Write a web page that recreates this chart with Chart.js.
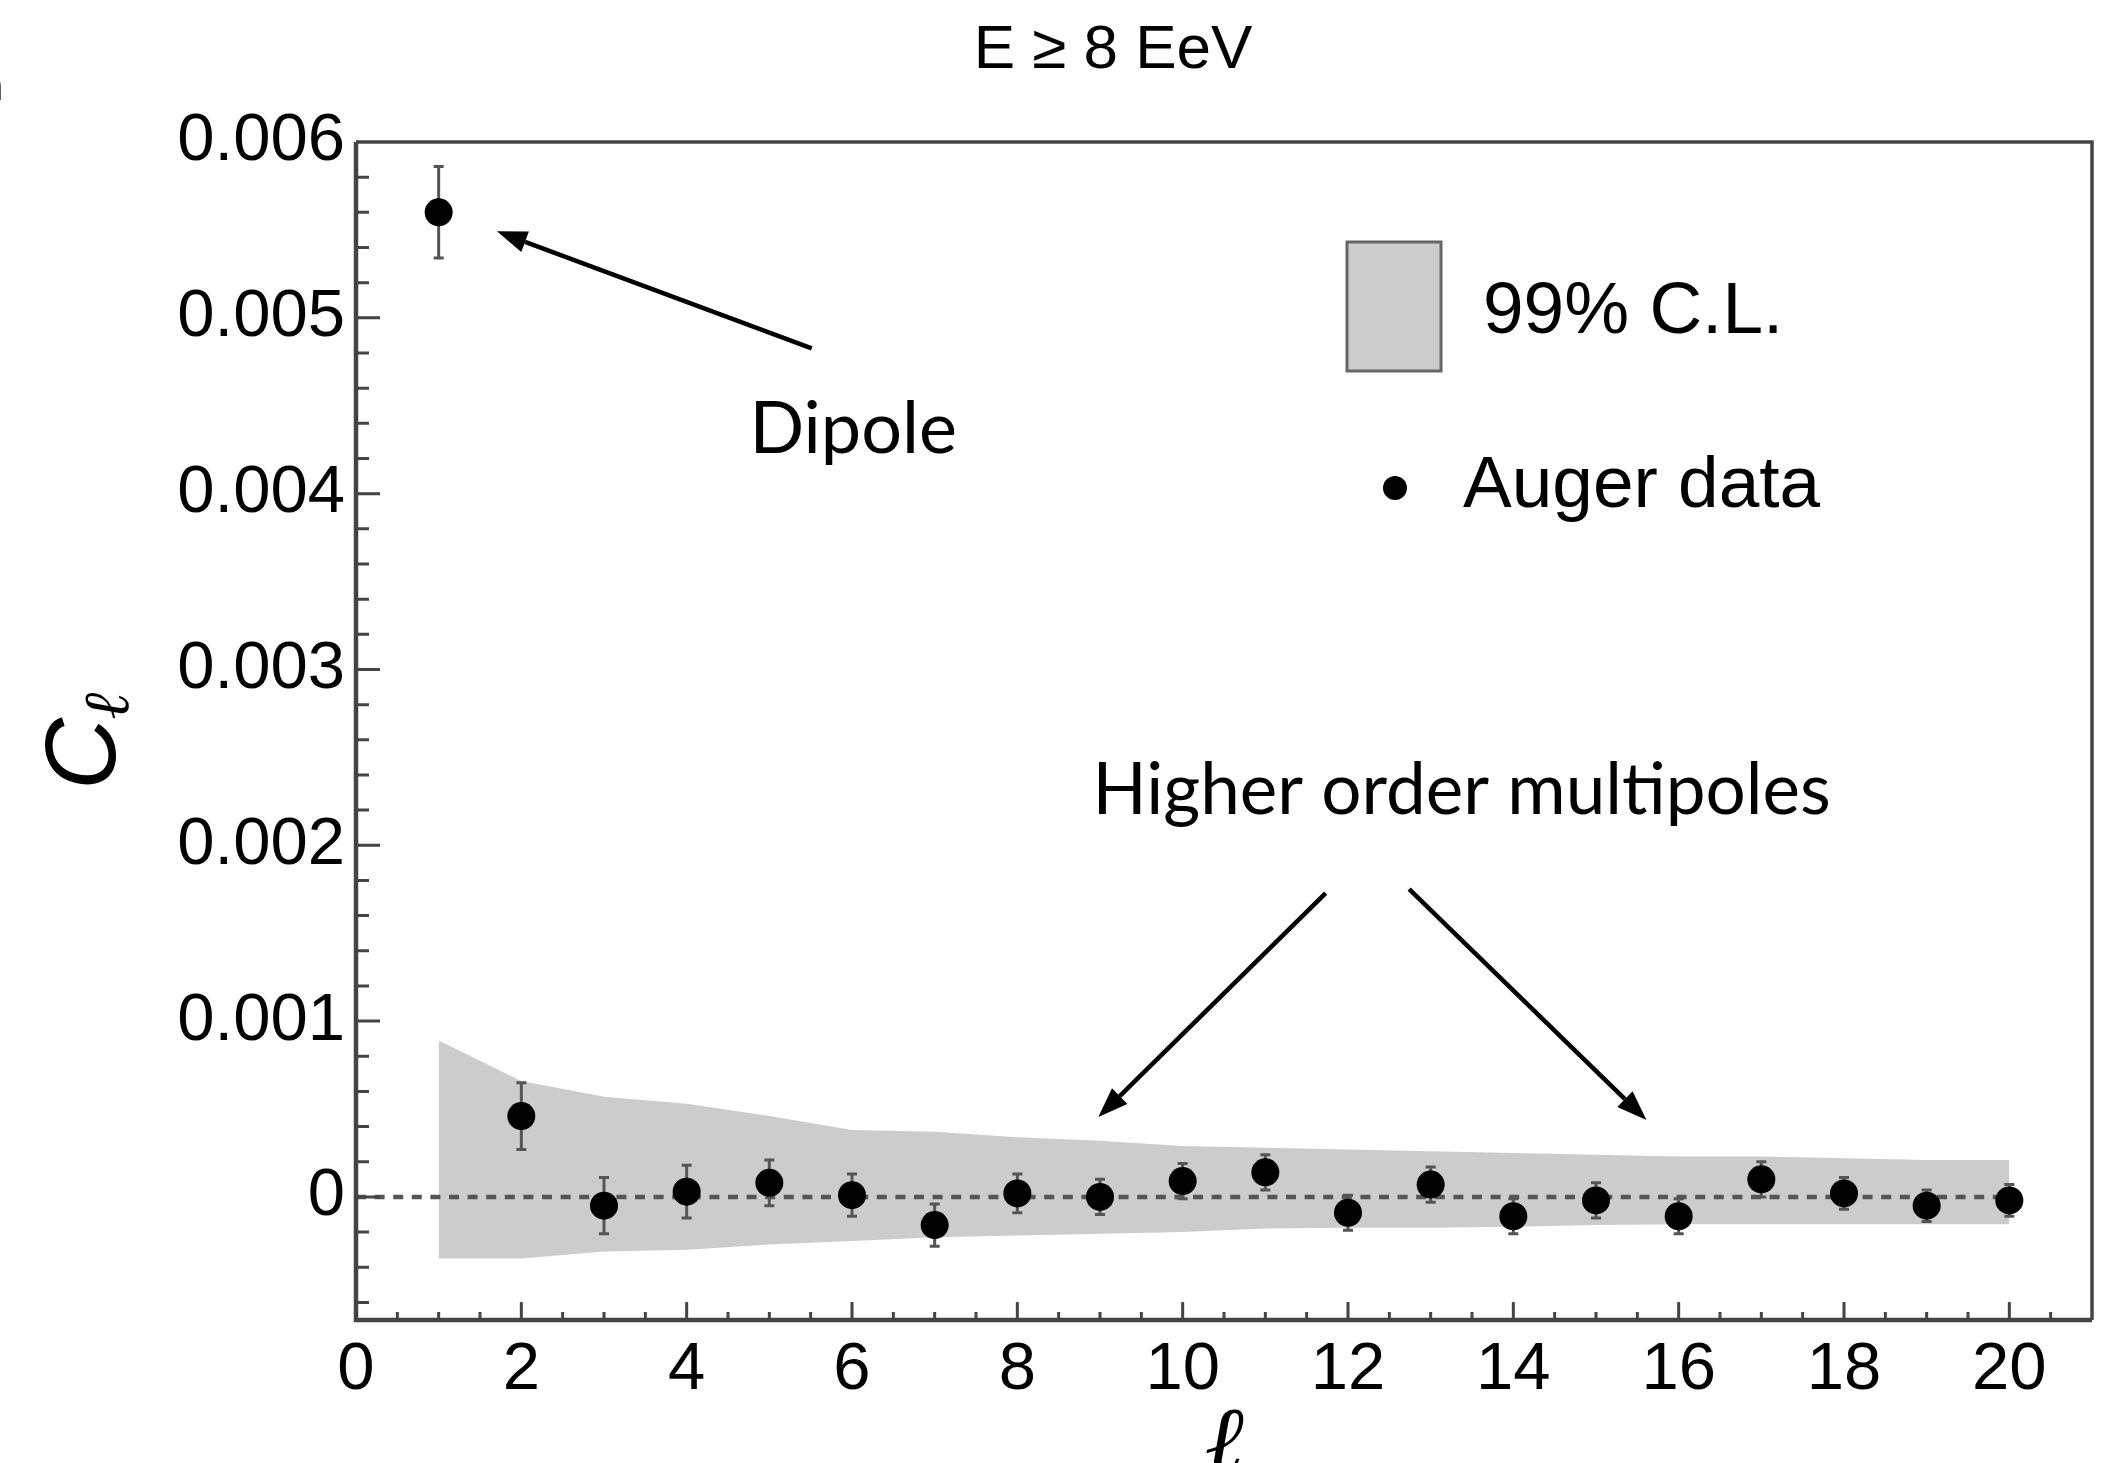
<!DOCTYPE html>
<html>
<head>
<meta charset="utf-8">
<title>Angular power spectrum, E ≥ 8 EeV</title>
<script src="https://cdn.jsdelivr.net/npm/chart.js@4.4.1/dist/chart.umd.min.js"></script>
<style>
  html, body { margin: 0; padding: 0; background: #fff; }
  #wrap { width: 2106px; height: 1463px; }
</style>
</head>
<body>
<div id="wrap"><canvas id="powerChart" width="2106" height="1463"></canvas></div>
<script>
// multipole order l and measured C_l with 1-sigma errors
const multipoles = [1, 2, 3, 4, 5, 6, 7, 8, 9, 10, 11, 12, 13, 14, 15, 16, 17, 18, 19, 20];
const clValues = [0.00560, 0.00046, -0.00005, 0.00003, 0.00008, 0.00001, -0.00016, 0.00002, 0.00000, 0.00009,
                  0.00014, -0.00009, 0.00007, -0.00011, -0.00002, -0.00011, 0.00010, 0.00002, -0.00005, -0.00002];
const clErrors = [0.00026, 0.00019, 0.00016, 0.00015, 0.00013, 0.00012, 0.00012, 0.00011, 0.00010, 0.00010,
                  0.00010, 0.00010, 0.00010, 0.00010, 0.00010, 0.00010, 0.00010, 0.00009, 0.00009, 0.00009];

// 99% C.L. band expected for isotropy
const bandUpper = [0.00089, 0.00066, 0.00057, 0.00053, 0.00046, 0.00038, 0.00037, 0.00034, 0.00032, 0.00029,
                   0.00028, 0.00027, 0.00026, 0.00025, 0.00024, 0.00023, 0.00023, 0.00022, 0.00021, 0.00021];
const bandLower = [-0.00035, -0.00035, -0.00031, -0.00030, -0.00027, -0.00025, -0.00023, -0.00022, -0.00021, -0.00020,
                   -0.00018, -0.000175, -0.000175, -0.00017, -0.00016, -0.000155, -0.000155, -0.000155, -0.000155, -0.000155];

const zeroLineRange = [0, 20];
const xTickValues = [0, 2, 4, 6, 8, 10, 12, 14, 16, 18, 20];
const yTickValues = [0, 0.001, 0.002, 0.003, 0.004, 0.005, 0.006];

const SANS = '"Liberation Sans", Arial, Helvetica, sans-serif';
const SCRIPT = '"Liberation Serif", "DejaVu Serif", serif';
const LABEL_FONT = 'Lato, "Noto Sans", sans-serif';

function drawArrow(ctx, x1, y1, x2, y2) {
  const ang = Math.atan2(y2 - y1, x2 - x1);
  const len = 30, half = 11;
  const bx = x2 - len * Math.cos(ang), by = y2 - len * Math.sin(ang);
  ctx.beginPath();
  ctx.moveTo(x1, y1);
  ctx.lineTo(bx, by);
  ctx.stroke();
  ctx.beginPath();
  ctx.moveTo(x2, y2);
  ctx.lineTo(bx + half * Math.sin(ang), by - half * Math.cos(ang));
  ctx.lineTo(bx - half * Math.sin(ang), by + half * Math.cos(ang));
  ctx.closePath();
  ctx.fill();
}

const decorations = {
  id: 'decorations',
  // error bars go under the markers
  beforeDatasetDraw(chart, args) {
    if (args.index !== 0) return;
    const {ctx, scales: {x, y}} = chart;
    ctx.save();
    ctx.strokeStyle = '#555';
    ctx.lineWidth = 3;
    multipoles.forEach((l, i) => {
      const px = x.getPixelForValue(l);
      const top = y.getPixelForValue(clValues[i] + clErrors[i]);
      const bot = y.getPixelForValue(clValues[i] - clErrors[i]);
      ctx.beginPath();
      ctx.moveTo(px, top); ctx.lineTo(px, bot);
      ctx.moveTo(px - 5, top); ctx.lineTo(px + 5, top);
      ctx.moveTo(px - 5, bot); ctx.lineTo(px + 5, bot);
      ctx.stroke();
    });
    ctx.restore();
  },
  afterDraw(chart) {
    const {ctx, chartArea: a, scales: {x, y}} = chart;
    ctx.save();

    // frame
    ctx.strokeStyle = '#444';
    ctx.lineWidth = 3.5;
    ctx.beginPath();
    ctx.moveTo(a.left, a.top); ctx.lineTo(a.right, a.top); ctx.lineTo(a.right, a.bottom);
    ctx.stroke();
    ctx.lineWidth = 4.5;
    ctx.beginPath();
    ctx.moveTo(a.left, a.top); ctx.lineTo(a.left, a.bottom); ctx.lineTo(a.right, a.bottom);
    ctx.stroke();

    // inward ticks
    ctx.lineWidth = 3;
    ctx.beginPath();
    for (let k = -3; k <= 29; k++) {
      const py = y.getPixelForValue(k * 0.0002);
      const len = k % 5 === 0 ? 24 : 13;
      ctx.moveTo(a.left, py); ctx.lineTo(a.left + len, py);
    }
    for (let k = 1; k <= 41; k++) {
      const px = x.getPixelForValue(k * 0.5);
      const len = k % 4 === 0 ? 18 : 8;
      ctx.moveTo(px, a.bottom); ctx.lineTo(px, a.bottom - len);
    }
    ctx.stroke();

    ctx.fillStyle = '#000';
    ctx.textAlign = 'center';
    ctx.textBaseline = 'alphabetic';

    // title
    ctx.font = '62px ' + SANS;
    ctx.fillText('E ≥ 8 EeV', 1113, 68);

    // fragment of neighbouring panel text
    ctx.textAlign = 'left';
    ctx.font = '40px ' + SANS;
    ctx.fillText('n', -19, 100);

    // axis titles
    ctx.textAlign = 'center';
    ctx.font = 'italic 94px ' + SCRIPT;
    ctx.fillText('ℓ', 1224, 1472);

    ctx.save();
    ctx.translate(115, 790);
    ctx.rotate(-Math.PI / 2);
    ctx.textAlign = 'left';
    ctx.font = 'italic 100px ' + SANS;
    ctx.fillText('C', 0, 0);
    const cw = ctx.measureText('C').width;
    ctx.font = 'italic 64px ' + SCRIPT;
    ctx.fillText('ℓ', cw - 2, 13);
    ctx.restore();

    // legend
    ctx.fillStyle = '#cccccc';
    ctx.fillRect(1347, 242, 94, 129);
    ctx.strokeStyle = '#666';
    ctx.lineWidth = 3;
    ctx.strokeRect(1347, 242, 94, 129);
    ctx.fillStyle = '#000';
    ctx.beginPath();
    ctx.arc(1395, 488, 12, 0, Math.PI * 2);
    ctx.fill();
    ctx.textAlign = 'left';
    ctx.font = '73px ' + SANS;
    ctx.fillText('99% C.L.', 1483, 333);
    ctx.fillText('Auger data', 1463, 507);

    // annotations
    ctx.font = '72px ' + LABEL_FONT;
    ctx.fillText('Dipole', x.getPixelForValue(4.76), y.getPixelForValue(0.004231));
    ctx.font = '71px ' + LABEL_FONT;
    ctx.fillText('Higher order multipoles', x.getPixelForValue(8.91), y.getPixelForValue(0.002177));

    ctx.strokeStyle = '#000';
    ctx.lineWidth = 4.5;
    drawArrow(ctx, x.getPixelForValue(5.513), y.getPixelForValue(0.004826),
                   x.getPixelForValue(1.705), y.getPixelForValue(0.005492));
    drawArrow(ctx, x.getPixelForValue(11.73), y.getPixelForValue(0.001728),
                   x.getPixelForValue(8.98), y.getPixelForValue(0.000454));
    drawArrow(ctx, x.getPixelForValue(12.74), y.getPixelForValue(0.001751),
                   x.getPixelForValue(15.61), y.getPixelForValue(0.000437));

    ctx.restore();
  }
};

new Chart(document.getElementById('powerChart'), {
  type: 'line',
  data: {
    datasets: [
      {
        label: 'Auger data',
        data: multipoles.map((l, i) => ({x: l, y: clValues[i]})),
        showLine: false,
        pointRadius: 14,
        pointBackgroundColor: '#000',
        pointBorderWidth: 0,
        order: 0
      },
      {
        label: 'zero',
        data: zeroLineRange.map(l => ({x: l, y: 0})),
        borderColor: '#555',
        borderWidth: 4.5,
        borderDash: [10, 8.6],
        pointRadius: 0,
        fill: false,
        order: 1
      },
      {
        label: '99% C.L.',
        data: multipoles.map((l, i) => ({x: l, y: bandUpper[i]})),
        borderWidth: 0,
        borderColor: 'rgba(0,0,0,0)',
        backgroundColor: '#cccccc',
        pointRadius: 0,
        fill: '+1',
        order: 2
      },
      {
        label: '99% C.L. lower',
        data: multipoles.map((l, i) => ({x: l, y: bandLower[i]})),
        borderWidth: 0,
        borderColor: 'rgba(0,0,0,0)',
        pointRadius: 0,
        fill: false,
        order: 3
      }
    ]
  },
  options: {
    responsive: false,
    animation: false,
    devicePixelRatio: 1,
    layout: {padding: {top: 142, right: 13, left: 0, bottom: 0}},
    plugins: {
      legend: {display: false},
      tooltip: {enabled: false},
      title: {display: false}
    },
    scales: {
      x: {
        type: 'linear',
        min: 0,
        max: 21,
        grid: {display: false, drawTicks: false},
        border: {display: false},
        afterBuildTicks: s => { s.ticks = xTickValues.map(v => ({value: v})); },
        afterFit: s => { s.height = 143; },
        ticks: {
          font: {family: SANS, size: 67},
          color: '#000',
          padding: 10,
          maxRotation: 0,
          autoSkip: false,
          callback: v => String(v)
        }
      },
      y: {
        type: 'linear',
        min: -0.0007,
        max: 0.006,
        grid: {display: false, drawTicks: false},
        border: {display: false},
        afterBuildTicks: s => { s.ticks = yTickValues.map(v => ({value: v})); },
        afterFit: s => { s.width = 356; },
        ticks: {
          font: {family: SANS, size: 67},
          color: '#000',
          padding: 11,
          autoSkip: false,
          callback: v => (v === 0 ? '0' : v.toFixed(3))
        }
      }
    }
  },
  plugins: [decorations]
});
</script>
</body>
</html>
